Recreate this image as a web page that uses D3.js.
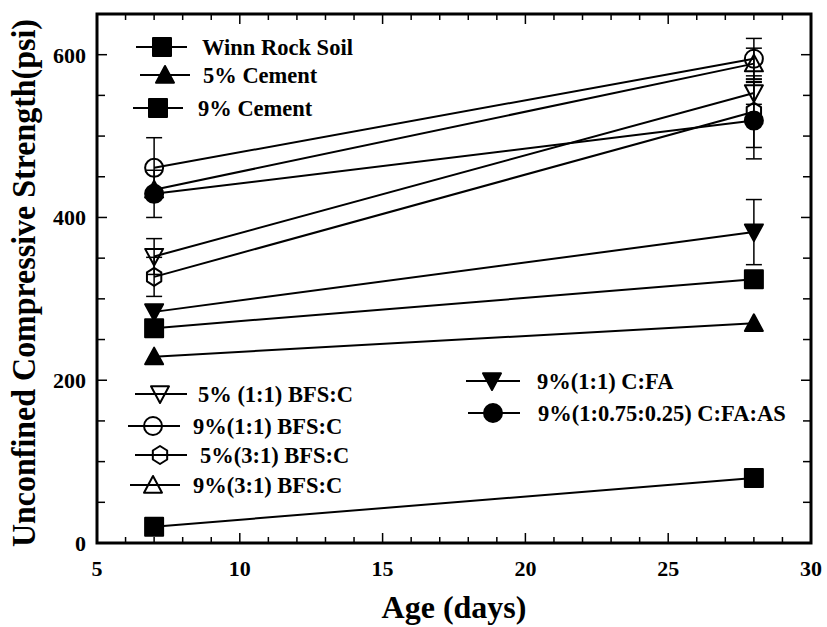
<!DOCTYPE html>
<html><head><meta charset="utf-8">
<script src="https://cdn.jsdelivr.net/npm/d3@7"></script>
<style>body{margin:0;background:#fff}svg text{font-family:"Liberation Serif","Times New Roman",serif;font-weight:bold;fill:#000}</style>
</head><body><svg id="c" width="827" height="627"></svg>
<script>
// Data
const ages = [7, 28];
const seriesNames = ["Winn Rock Soil","5% Cement","9% Cement","5% (1:1) BFS:C","9%(1:1) BFS:C","5%(3:1) BFS:C","9%(3:1) BFS:C","9%(1:1) C:FA","9%(1:0.75:0.25) C:FA:AS"];
const seriesSymbols = ["square","triangle","square","invtriangle","circle","hexagon","triangle","invtriangle","circle"];
const seriesFilled = [true,true,true,false,false,false,false,true,true];
const winnRockSoil = [20, 80];
const cement5 = [229, 270];
const cement9 = [264, 324];
const bfs11_5 = [352, 553];
const bfs11_9 = [461, 595];
const bfs31_5 = [327, 530];
const bfs31_9 = [434, 589];
const cfa11_9 = [284, 382];
const cfaas_9 = [429, 519];
const seriesValues = [winnRockSoil, cement5, cement9, bfs11_5, bfs11_9, bfs31_5, bfs31_9, cfa11_9, cfaas_9];
const errWinn = [0, 0];
const err5C = [0, 0];
const err9C = [0, 0];
const errB115 = [22, 14];
const errB119 = [37, 25];
const errB315 = [24, 44];
const errB319 = [0, 19];
const errCFA = [0, 40];
const errCFAAS = [29, 47];
const seriesErrors = [errWinn, err5C, err9C, errB115, errB119, errB315, errB319, errCFA, errCFAAS];
const xTicks = [5, 10, 15, 20, 25, 30];
const yTicks = [0, 200, 400, 600];

const svg = d3.select("#c");
const L = 97, R = 811, T = 14, B = 543;
const x = d3.scaleLinear().domain([5, 30]).range([L, R]);
const y = d3.scaleLinear().domain([0, 650]).range([B, T]);

// ticks (inward, all four sides)
const g = svg.append("g");
d3.range(5, 31, 1).forEach(v => {
  const len = v % 5 === 0 ? 10 : 6;
  g.append("line").attr("x1", x(v)).attr("x2", x(v)).attr("y1", B).attr("y2", B - len).attr("stroke", "#000").attr("stroke-width", 1.5);
  g.append("line").attr("x1", x(v)).attr("x2", x(v)).attr("y1", T).attr("y2", T + len).attr("stroke", "#000").attr("stroke-width", 1.5);
});
d3.range(0, 651, 50).forEach(v => {
  const len = v % 200 === 0 ? 10 : 8;
  g.append("line").attr("x1", L).attr("x2", L + len).attr("y1", y(v)).attr("y2", y(v)).attr("stroke", "#000").attr("stroke-width", 1.5);
  g.append("line").attr("x1", R).attr("x2", R - len).attr("y1", y(v)).attr("y2", y(v)).attr("stroke", "#000").attr("stroke-width", 1.5);
});
svg.append("rect").attr("x", L).attr("y", T).attr("width", R - L).attr("height", B - T).attr("fill", "none").attr("stroke", "#000").attr("stroke-width", 3);

// tick labels
svg.selectAll(".xt").data(xTicks).enter().append("text").attr("x", d => x(d)).attr("y", 576)
  .attr("text-anchor", "middle").attr("font-size", 22).text(d => d);
svg.selectAll(".yt").data(yTicks).enter().append("text").attr("x", 86).attr("y", d => y(d) + 8)
  .attr("text-anchor", "end").attr("font-size", 22).text(d => d);

// axis titles
svg.append("text").attr("x", (L + R) / 2).attr("y", 618).attr("text-anchor", "middle").attr("font-size", 32).text("Age (days)");
svg.append("text").attr("transform", `translate(35,283) rotate(-90)`).attr("text-anchor", "middle")
  .attr("font-size", 33).attr("textLength", 528).attr("lengthAdjust", "spacingAndGlyphs")
  .text("Unconfined Compressive Strength(psi)");

function symbolPath(type, s) {
  const h = s / 2;
  if (type === "square") return `M${-h},${-h}h${s}v${s}h${-s}Z`;
  if (type === "triangle") return `M0,${-h}L${h},${h * 0.85}L${-h},${h * 0.85}Z`;
  if (type === "invtriangle") return `M0,${h}L${h},${-h * 0.85}L${-h},${-h * 0.85}Z`;
  if (type === "hexagon") {
    const r = h; let p = "";
    for (let i = 0; i < 6; i++) { const a = Math.PI / 2 + i * Math.PI / 3; p += (i ? "L" : "M") + (r * 0.92 * Math.cos(a)).toFixed(2) + "," + (r * Math.sin(a)).toFixed(2); }
    return p + "Z";
  }
  return null;
}
function drawMarker(sel, type, filled, cx, cy, s) {
  if (type === "circle") {
    sel.append("circle").attr("cx", cx).attr("cy", cy).attr("r", s / 2)
      .attr("fill", filled ? "#000" : "none").attr("stroke", "#000").attr("stroke-width", 2);
  } else {
    sel.append("path").attr("d", symbolPath(type, s)).attr("transform", `translate(${cx},${cy})`)
      .attr("fill", filled ? "#000" : "none").attr("stroke", "#000").attr("stroke-width", 2).attr("stroke-linejoin", "round");
  }
}

// data: error bars, lines, markers
const plot = svg.append("g");
seriesValues.forEach((vals, i) => {
  vals.forEach((v, j) => {
    const e = seriesErrors[i][j];
    if (e > 0) {
      const cx = x(ages[j]);
      plot.append("line").attr("x1", cx).attr("x2", cx).attr("y1", y(v - e)).attr("y2", y(v + e)).attr("stroke", "#000").attr("stroke-width", 1.5);
      [v - e, v + e].forEach(w => plot.append("line").attr("x1", cx - 8).attr("x2", cx + 8).attr("y1", y(w)).attr("y2", y(w)).attr("stroke", "#000").attr("stroke-width", 1.5));
    }
  });
  const line = d3.line().x((d, j) => x(ages[j])).y(d => y(d));
  plot.append("path").attr("d", line(vals)).attr("fill", "none").attr("stroke", "#000").attr("stroke-width", 2);
  vals.forEach((v, j) => drawMarker(plot, seriesSymbols[i], seriesFilled[i], x(ages[j]), y(v), 18));
});

// legends
const legendRows = [
  {i: 0, lx1: 136, lx2: 187, mx: 162, y: 47, tx: 202},
  {i: 1, lx1: 140, lx2: 190, mx: 165, y: 75, tx: 203},
  {i: 2, lx1: 133, lx2: 183, mx: 158, y: 108, tx: 198},
  {i: 3, lx1: 135, lx2: 187, mx: 160, y: 394, tx: 198},
  {i: 4, lx1: 128, lx2: 180, mx: 153, y: 426, tx: 193},
  {i: 5, lx1: 135, lx2: 187, mx: 160, y: 455, tx: 200},
  {i: 6, lx1: 130, lx2: 180, mx: 153, y: 485, tx: 193},
  {i: 7, lx1: 466, lx2: 520, mx: 492, y: 381, tx: 537},
  {i: 8, lx1: 468, lx2: 520, mx: 493, y: 413, tx: 538}
];
const lg = svg.append("g");
legendRows.forEach(r => {
  lg.append("line").attr("x1", r.lx1).attr("x2", r.lx2).attr("y1", r.y).attr("y2", r.y).attr("stroke", "#000").attr("stroke-width", 2);
  drawMarker(lg, seriesSymbols[r.i], seriesFilled[r.i], r.mx, r.y, 18);
  lg.append("text").attr("x", r.tx).attr("y", r.y + 8).attr("font-size", 22.5).text(seriesNames[r.i]);
});
</script></body></html>
